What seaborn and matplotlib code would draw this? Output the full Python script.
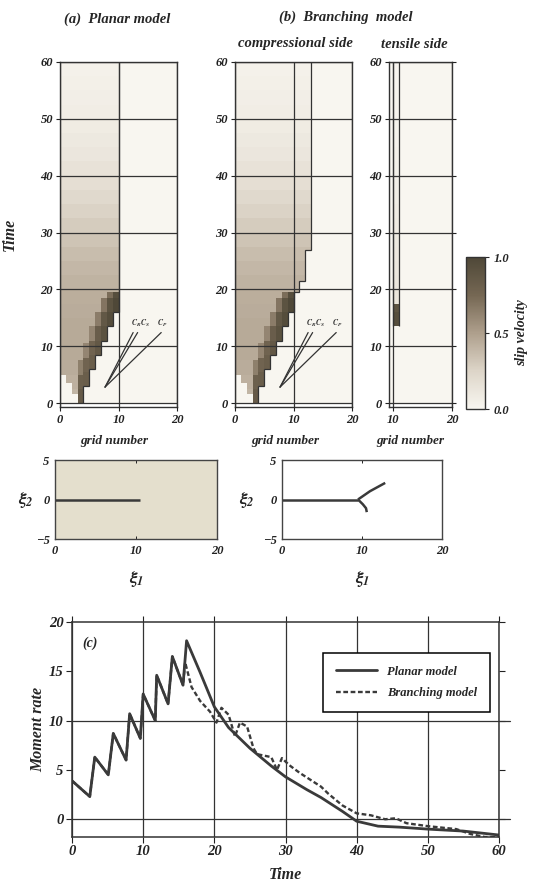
import numpy as np
import pandas as pd
import matplotlib
matplotlib.use("Agg")
import matplotlib.pyplot as plt
import seaborn as sns
from matplotlib.colors import LinearSegmentedColormap

# ---- data ----
DT = 0.5                      # time step of the slip-velocity maps
NGRID = 20
TMAX = 60

# background slip-velocity level behind the front, one value per 2.5 time units
bg_level = [0.40, 0.42, 0.44, 0.45, 0.45, 0.45, 0.44, 0.43, 0.41, 0.39, 0.36, 0.33,
            0.29, 0.26, 0.22, 0.18, 0.15, 0.12, 0.10, 0.08, 0.07, 0.06, 0.05, 0.04]
pulse_shape = [1.0, 0.95, 0.75]   # relative level 0-2.5, 2.5-5, 5-7.5 after the front

nan = np.nan
planar_arrival = [5.0, 3.5, 1.5, 0.0, 3.0, 6.0, 8.5, 11.0, 13.5, 16.0] + [nan] * 10
planar_peak = [0, 0, 0, 0.85, 0.82, 0.82, 0.87, 0.92, 0.96, 1.0] + [0] * 10
comp_arrival = planar_arrival[:10] + [19.5, 21.5, 27.0] + [nan] * 7
comp_peak = planar_peak[:10] + [0.36, 0.33, 0.3] + [0] * 7
tens_arrival = [nan] * 10 + [13.5] + [nan] * 9
tens_peak = [0] * 10 + [0.95] + [0] * 9
front_stop = 19.5

wave_origin = (7.7, 2.8)
wave_speeds = [0.50, 0.58, 1.0]   # C_R, C_S, C_P in grid/time
wave_end = 12.4

# fault traces (xi1, xi2)
planar_trace_x = [0, 10.5]
planar_trace_y = [0, 0]
main_trace_x = [0, 9.5]
main_trace_y = [0, 0]
upper_branch_x = [9.5, 11.0, 12.9]
upper_branch_y = [0, 1.05, 2.1]
lower_branch_x = [9.5, 10.1, 10.5, 10.6]
lower_branch_y = [0, -0.6, -1.1, -1.6]

# moment rate
planar_t = [0, 2.5, 3.2, 5.1, 5.8, 7.6, 8.1, 9.6, 10.0, 11.7, 11.9, 13.5, 14.1, 15.6, 16.1,
            18, 20, 22, 25, 28, 30, 33, 35, 38, 40, 43, 46, 50, 55, 60]
planar_mr = [3.9, 2.3, 6.3, 4.5, 8.7, 6.0, 10.7, 8.2, 12.7, 10.0, 14.6, 11.7, 16.5, 13.6, 18.1,
             14.9, 11.4, 9.3, 7.2, 5.4, 4.3, 3.0, 2.2, 0.8, -0.2, -0.7, -0.8, -1.0, -1.2, -1.6]
branch_t = [0, 2.5, 3.2, 5.1, 5.8, 7.6, 8.1, 9.6, 10.0, 11.7, 11.9, 13.5, 14.1, 15.6, 15.9,
            16.8, 18.0, 19.4, 20.3, 21.0, 22.0, 22.9, 23.6, 24.6, 25.5, 26.0, 28.0, 28.8, 29.5,
            30.5, 32, 35, 36, 38, 40, 42, 44, 45.5, 47, 50, 54, 56, 58, 60]
branch_mr = [3.9, 2.3, 6.3, 4.5, 8.7, 6.0, 10.7, 8.2, 12.7, 10.0, 14.6, 11.7, 16.5, 13.6, 15.9,
             13.4, 12.0, 10.9, 9.8, 11.3, 10.6, 8.4, 9.8, 9.4, 7.2, 6.6, 6.3, 5.0, 6.2,
             5.5, 4.7, 3.3, 2.6, 1.4, 0.6, 0.4, 0.0, 0.1, -0.4, -0.7, -1.0, -1.5, -1.8, -1.8]

time_ticks = [0, 10, 20, 30, 40, 50, 60]

# ---- style ----
sns.set_style("ticks")
plt.rcParams["font.family"] = ["Liberation Serif", "DejaVu Serif"]
plt.rcParams["font.weight"] = "bold"
plt.rcParams["font.style"] = "italic"
plt.rcParams["axes.labelweight"] = "bold"
plt.rcParams["mathtext.fontset"] = "stix"
INK = "#333333"

slip_cmap = LinearSegmentedColormap.from_list(
    "slip", ["#f8f6f0", "#ddd5c8", "#ae9f8c", "#756753", "#4f4838"])


def build_field(arrival, peak, stop, bg_scale=1.0):
    bg = np.repeat(np.array(bg_level) * bg_scale, int(2.5 / DT))
    t = np.arange(len(bg)) * DT
    field = np.zeros((len(bg), NGRID))
    for j, (ta, pk) in enumerate(zip(arrival, peak)):
        if np.isnan(ta):
            continue
        on = t >= ta
        col = np.where(on, bg, 0.0)
        k = np.floor((t - ta) / 2.5).astype(int)
        for n, s in enumerate(pulse_shape):
            m = on & (k == n) & ((t < stop) | (ta >= stop))
            col[m] = np.maximum(col[m], pk * s)
        field[:, j] = col
    return field


def draw_field(ax, field, xlim, xticks, yticklabels=True):
    sns.heatmap(field, ax=ax, cmap=slip_cmap, vmin=0, vmax=1, cbar=False,
                xticklabels=False, yticklabels=False, rasterized=True)
    ax.set_xlim(*xlim)
    ax.set_ylim(-0.7 / DT, TMAX / DT)
    for sp in ax.spines.values():
        sp.set_visible(True)
        sp.set_linewidth(1.0)
        sp.set_color(INK)
    ax.set_xticks(xticks)
    ax.set_xticklabels([str(v) for v in xticks])
    ax.set_yticks(np.array(time_ticks) / DT)
    ax.set_yticklabels([str(v) for v in time_ticks] if yticklabels else [])
    ax.grid(True, color=INK, lw=0.9)
    ax.set_axisbelow(False)
    ax.tick_params(direction="out", length=3, width=0.8, labelsize=9, pad=2,
                   colors="#222222")


def outline(ax, field, left_too=False):
    hit = field > 0
    rows = np.where(hit.any(axis=1))[0]
    edges = np.arange(rows[0], rows[0] + len(rows) + 1)
    right = np.array([np.where(hit[r])[0].max() + 1 for r in rows])
    ax.stairs(right, edges, orientation="horizontal", baseline=None, color=INK, lw=0.9, zorder=4)
    if left_too:
        left = np.array([np.where(hit[r])[0].min() for r in rows])
        ax.stairs(left, edges, orientation="horizontal", baseline=None, color=INK, lw=0.9, zorder=4)


def wave_lines(ax):
    x0, t0 = wave_origin
    for c in wave_speeds:
        ax.plot([x0, x0 + c * (wave_end - t0)], [t0 / DT, wave_end / DT], color=INK, lw=0.9, zorder=4)
    ax.text(13.7, (wave_end + 0.6) / DT, "$C_R C_S$", fontsize=5.5, ha="center", va="bottom", color=INK)
    ax.text(17.4, (wave_end + 0.6) / DT, "$C_P$", fontsize=5.5, ha="center", va="bottom", color=INK)


W, H = 534, 889
fig = plt.figure(figsize=(W / 100, H / 100), dpi=100)


def box(x0, y0, x1, y1):
    return [x0 / W, 1 - y1 / H, (x1 - x0) / W, (y1 - y0) / H]


ax_a = fig.add_axes(box(60, 62, 177, 407))
ax_b = fig.add_axes(box(235, 62, 352, 407))
ax_t = fig.add_axes(box(389, 62, 452, 407))
cax = fig.add_axes(box(466, 257, 485, 409))
ax_ma = fig.add_axes(box(55, 460, 217, 539))
ax_mb = fig.add_axes(box(282, 460, 442, 539))
ax_c = fig.add_axes(box(72, 622, 499, 837))

f_planar = build_field(planar_arrival, planar_peak, front_stop)
f_comp = build_field(comp_arrival, comp_peak, front_stop)
f_tens = build_field(tens_arrival, tens_peak, 17.5, bg_scale=0.3)

draw_field(ax_a, f_planar, (0, 20), [0, 10, 20])
outline(ax_a, f_planar)
wave_lines(ax_a)
ax_a.set_ylabel("Time", fontsize=11.5)
ax_a.yaxis.set_label_coords(-0.36, 0.5)
ax_a.set_xlabel("grid number", fontsize=9.5)
ax_a.xaxis.set_label_coords(0.46, -0.08)

draw_field(ax_b, f_comp, (0, 20), [0, 10, 20])
outline(ax_b, f_comp)
wave_lines(ax_b)
ax_b.set_xlabel("grid number", fontsize=9.5)
ax_b.xaxis.set_label_coords(0.43, -0.08)

draw_field(ax_t, f_tens, (9.4, 20), [10, 20])
outline(ax_t, f_tens, left_too=True)
ax_t.tick_params(axis="y", right=True, direction="out")
ax_t.set_xlabel("grid number", fontsize=9.5)
ax_t.xaxis.set_label_coords(0.33, -0.08)

cb = fig.colorbar(ax_a.collections[0], cax=cax, ticks=[0, 0.5, 1.0])
cb.ax.set_yticklabels(["0.0", "0.5", "1.0"])
cb.ax.tick_params(labelsize=9, length=3, width=0.8)
cb.outline.set_edgecolor(INK)
cb.outline.set_linewidth(1.0)
cb.set_label("slip velocity", fontsize=10, labelpad=4)

fig.text(117 / W, 1 - 19 / H, "(a)  Planar model", fontsize=10.5, ha="center", va="center")
fig.text(346 / W, 1 - 17 / H, "(b)  Branching  model", fontsize=10.5, ha="center", va="center")
fig.text(295 / W, 1 - 44 / H, "compressional side", fontsize=10.5, ha="center", va="center")
fig.text(414 / W, 1 - 44 / H, "tensile side", fontsize=10.5, ha="center", va="center")

# fault geometry panels
for ax in (ax_ma, ax_mb):
    ax.set_xlim(0, 20)
    ax.set_ylim(-5, 5)
    ax.set_xticks([0, 10, 20])
    ax.set_yticks([-5, 0, 5])
    ax.tick_params(direction="in", length=2.5, width=0.7, labelsize=9, pad=4, colors="#222222",
                   top=True)
    for sp in ax.spines.values():
        sp.set_color("#444444")
        sp.set_linewidth(1.0)
    ax.set_xlabel("$\\xi_1$", fontsize=13)
    ax.xaxis.set_label_coords(0.5, -0.38)
    ax.set_ylabel("$\\xi_2$", fontsize=13, rotation=0, va="center")
ax_ma.yaxis.set_label_coords(-0.18, 0.5)
ax_mb.yaxis.set_label_coords(-0.22, 0.5)
ax_ma.set_facecolor("#e4dfcd")
ax_ma.plot(planar_trace_x, planar_trace_y, color="#3a3a3a", lw=1.8, solid_capstyle="butt")
ax_mb.plot(main_trace_x, main_trace_y, color="#3a3a3a", lw=1.8, solid_capstyle="butt")
ax_mb.plot(upper_branch_x, upper_branch_y, color="#3a3a3a", lw=1.8, solid_capstyle="butt")
ax_mb.plot(lower_branch_x, lower_branch_y, color="#3a3a3a", lw=1.8, solid_capstyle="butt")

# moment rate panel
df_p = pd.DataFrame({"Time": planar_t, "Moment rate": planar_mr})
df_b = pd.DataFrame({"Time": branch_t, "Moment rate": branch_mr})
sns.lineplot(data=df_p, x="Time", y="Moment rate", ax=ax_c, color="#3a3a3a", lw=2.0,
             estimator=None, sort=False, label="Planar model")
sns.lineplot(data=df_b, x="Time", y="Moment rate", ax=ax_c, color="#3a3a3a", lw=1.7,
             estimator=None, sort=False, label="Branching model")
ax_c.lines[1].set_linestyle((0, (2.0, 1.1)))
ax_c.set_xlim(0, 60)
ax_c.set_ylim(-1.8, 20)
ax_c.set_xticks([0, 10, 20, 30, 40, 50, 60])
ax_c.set_yticks([0, 5, 10, 15, 20])
ax_c.grid(axis="x", color=INK, lw=0.9)
for yv in (0, 10):
    ax_c.axhline(yv, xmin=0, xmax=1.025, color=INK, lw=0.9, clip_on=False, zorder=1)
for sp in ax_c.spines.values():
    sp.set_color(INK)
    sp.set_linewidth(1.1)
ax_c.tick_params(direction="out", length=4, width=0.8, labelsize=10.5, pad=2, colors="#222222",
                 right=True, top=True)
ax_c.set_xlabel("Time", fontsize=11.5, labelpad=6)
ax_c.set_ylabel("Moment rate", fontsize=11.5, labelpad=2)
ax_c.text(0.023, 0.90, "(c)", transform=ax_c.transAxes, fontsize=10, ha="left", va="center")
leg = ax_c.legend(loc="upper right", bbox_to_anchor=(0.993, 0.884), frameon=True, fancybox=False,
                  edgecolor="black", framealpha=1, handlelength=3.3, fontsize=9,
                  borderpad=1.0, labelspacing=0.75)
leg.get_frame().set_linewidth(1.1)

fig.savefig("out.png", dpi=100, facecolor="white")
